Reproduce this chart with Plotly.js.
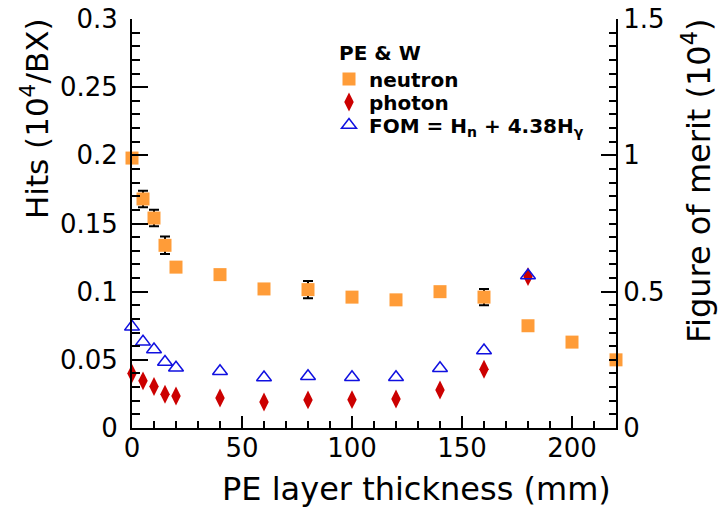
<!DOCTYPE html>
<html>
<head>
<meta charset="utf-8">
<script src="https://cdn.plot.ly/plotly-3.0.1.min.js"></script>
<style>html,body{margin:0;padding:0;background:#fff;}#chart{width:719px;height:509px;}</style>
</head>
<body>
<div id="chart"></div>
<script>
// ---- data ----
const thickness = [0, 5, 10, 15, 20, 40, 60, 80, 100, 120, 140, 160, 180, 200, 220];
const neutron = [0.198, 0.168, 0.154, 0.134, 0.118, 0.1125, 0.102, 0.1015, 0.096, 0.094, 0.100, 0.096, 0.075, 0.063, 0.050];
const neutronErr = [0.003, 0.006, 0.006, 0.0064, 0.003, 0.003, 0.003, 0.0064, 0.003, 0.003, 0.003, 0.006, 0.003, 0.003, 0.003];
const photonThickness = [0, 5, 10, 15, 20, 40, 60, 80, 100, 120, 140, 160, 180];
const photon = [0.040, 0.0346, 0.0304, 0.0248, 0.0235, 0.022, 0.0191, 0.0206, 0.0208, 0.0213, 0.0279, 0.0431, 0.111];
const fom = [0.371, 0.316, 0.288, 0.242, 0.221, 0.208, 0.185, 0.190, 0.186, 0.186, 0.219, 0.284, 0.559];
const seriesNames = ['neutron', 'photon', 'FOM = H<sub>n</sub> + 4.38H<sub>γ</sub>'];
const legendHeader = 'PE & W';
const xTitle = 'PE layer thickness (mm)';
const yTitle = 'Hits (10<sup>4</sup>/BX)';
const y2Title = 'Figure of merit (10<sup>4</sup>)';

const FONT = 'DejaVu Sans, Arial, sans-serif';

const traces = [
  {
    x: thickness, y: neutron, type: 'scatter', mode: 'markers', name: seriesNames[0],
    marker: {symbol: 'square', size: 13, color: '#ff9c38'},
    error_y: {type: 'data', array: neutronErr, visible: true, color: '#000', thickness: 2, width: 5},
    cliponaxis: false, legend: 'legend'
  },
  {
    x: photonThickness, y: photon, type: 'scatter', mode: 'markers', name: seriesNames[1],
    marker: {symbol: 'diamond-tall', size: 13.5, color: '#cc0000'},
    cliponaxis: false, legend: 'legend2'
  },
  {
    x: photonThickness, y: fom, type: 'scatter', mode: 'markers', name: seriesNames[2],
    yaxis: 'y2',
    marker: {symbol: 'triangle-up-open', size: 13, color: '#1010e0', line: {width: 1.5, color: '#1010e0'}},
    cliponaxis: false, legend: 'legend3'
  }
];

function legendAt(ypx) {
  return {
    x: (329 - 132) / 484, y: (428 - ypx) / 409, xanchor: 'left', yanchor: 'middle',
    bgcolor: 'rgba(0,0,0,0)', borderwidth: 0,
    font: {family: FONT, size: 20, color: '#000', weight: 'bold'}
  };
}

const tickFont = {family: FONT, size: 26, color: '#000'};

const layout = {
  width: 719, height: 509,
  margin: {l: 132, r: 103, t: 19, b: 81, pad: 0},
  paper_bgcolor: '#fff', plot_bgcolor: '#fff',
  font: {family: FONT, color: '#000'},
  showlegend: true,
  legend: legendAt(79),
  legend2: legendAt(102),
  legend3: legendAt(125),
  xaxis: {
    range: [0, 220], dtick: 50, tick0: 0,
    showgrid: false, zeroline: false,
    showline: true, linecolor: '#000', linewidth: 2,
    ticks: 'inside', ticklen: 12, tickwidth: 2, tickcolor: '#000',
    minor: {dtick: 10, ticks: 'inside', ticklen: 7, tickwidth: 2, tickcolor: '#000', showgrid: false},
    tickfont: tickFont, ticklabelstandoff: -4
  },
  yaxis: {
    range: [0, 0.3], dtick: 0.05, tick0: 0,
    showgrid: false, zeroline: false,
    showline: true, linecolor: '#000', linewidth: 2,
    ticks: 'inside', ticklen: 16, tickwidth: 2, tickcolor: '#000',
    minor: {dtick: 0.01, ticks: 'inside', ticklen: 8, tickwidth: 2, tickcolor: '#000', showgrid: false},
    tickfont: tickFont, ticklabelstandoff: 7
  },
  yaxis2: {
    overlaying: 'y', side: 'right', anchor: 'x',
    range: [0, 1.5], dtick: 0.5, tick0: 0,
    showgrid: false, zeroline: false,
    showline: true, linecolor: '#000', linewidth: 2,
    ticks: 'inside', ticklen: 15, tickwidth: 2, tickcolor: '#000',
    minor: {dtick: 0.05, ticks: 'inside', ticklen: 7, tickwidth: 2, tickcolor: '#000', showgrid: false},
    tickfont: tickFont, ticklabelstandoff: 0
  },
  annotations: [
    {text: legendHeader, xref: 'paper', yref: 'paper', x: (337 - 132) / 484, y: (428 - 52.7) / 409,
     xanchor: 'left', yanchor: 'middle', showarrow: false,
     font: {family: FONT, size: 20, color: '#000', weight: 'bold'}},
    {text: xTitle, xref: 'paper', yref: 'paper', x: (613 - 132) / 484, y: (428 - 488.6) / 409,
     xanchor: 'right', yanchor: 'middle', showarrow: false,
     font: {family: FONT, size: 32, color: '#000'}},
    {text: yTitle, xref: 'paper', yref: 'paper', x: (35 - 132) / 484, y: (428 - 17) / 409,
     xanchor: 'center', yanchor: 'top', textangle: -90, showarrow: false,
     font: {family: FONT, size: 31, color: '#000'}},
    {text: y2Title, xref: 'paper', yref: 'paper', x: (697 - 132) / 484, y: (428 - 17) / 409,
     xanchor: 'center', yanchor: 'top', textangle: -90, showarrow: false,
     font: {family: FONT, size: 32, color: '#000'}}
  ]
};

Plotly.newPlot('chart', traces, layout, {displayModeBar: false, staticPlot: true});
</script>
</body>
</html>
